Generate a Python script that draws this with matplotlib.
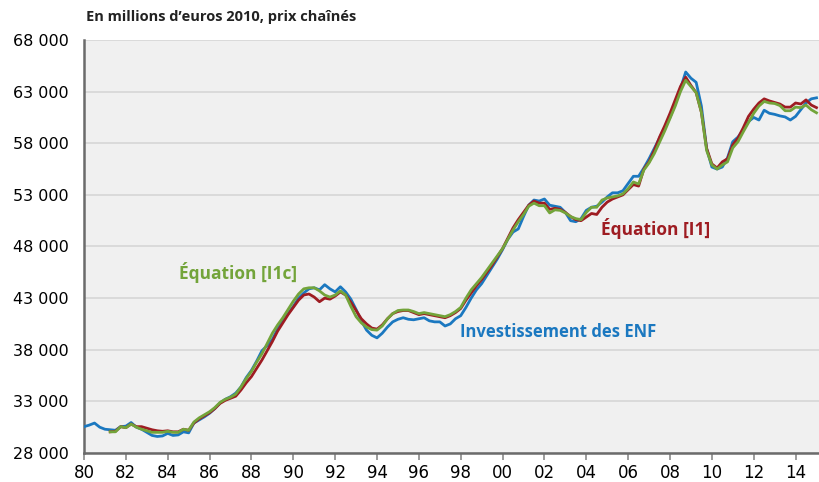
import numpy as np
import matplotlib
matplotlib.use("Agg")
import matplotlib.pyplot as plt
from matplotlib.ticker import FuncFormatter

# --------------------------------------------------
# DONNÉES (trimestrielles)
# --------------------------------------------------
# Investissement des ENF : 1980T1 -> 2015T1
start_enf = 1980.0
invest_enf = [
    30550, 30700, 30900, 30500,   # 1980
    30300, 30250, 30200, 30550,   # 1981
    30600, 30950, 30500, 30300,   # 1982
    30000, 29700, 29600, 29650,   # 1983
    29900, 29700, 29750, 30050,   # 1984
    29950, 30900, 31200, 31500,   # 1985
    31850, 32300, 32850, 33200,   # 1986
    33450, 33800, 34400, 35300,   # 1987
    36000, 36900, 37900, 38400,   # 1988
    39000, 40000, 40800, 41500,   # 1989
    42200, 43000, 43500, 43900,   # 1990
    44000, 43800, 44300, 43900,   # 1991
    43600, 44100, 43600, 42900,   # 1992
    41900, 40800, 39900, 39400,   # 1993
    39150, 39600, 40200, 40700,   # 1994
    40950, 41100, 40950, 40900,   # 1995
    41000, 41100, 40800, 40700,   # 1996
    40700, 40300, 40500, 41000,   # 1997
    41300, 42100, 43000, 43800,   # 1998
    44400, 45200, 46000, 46800,   # 1999
    47700, 48700, 49400, 49700,   # 2000
    50900, 52000, 52500, 52400,   # 2001
    52600, 52000, 51900, 51800,   # 2002
    51300, 50500, 50400, 50700,   # 2003
    51500, 51800, 51900, 52300,   # 2004
    52800, 53200, 53200, 53400,   # 2005
    54100, 54800, 54800, 55600,   # 2006
    56500, 57500, 58500, 59500,   # 2007
    60500, 61800, 63300, 64900,   # 2008
    64300, 63900, 61600, 57500,   # 2009
    55700, 55500, 55700, 56600,   # 2010
    58150, 58600, 59300, 60100,   # 2011
    60500, 60250, 61200, 60900,   # 2012
    60800, 60650, 60550, 60250,   # 2013
    60600, 61250, 61900, 62300,   # 2014
    62400,                        # 2015
]

# Équations : 1981T2 -> 2015T1
start_eq = 1981.25
equation_i1 = [
    30050, 30100, 30550,          # 1981
    30450, 30800, 30550, 30550,   # 1982
    30400, 30250, 30150, 30100,   # 1983
    30150, 30050, 30050, 30300,   # 1984
    30200, 30900, 31300, 31600,   # 1985
    31900, 32300, 32800, 33100,   # 1986
    33300, 33500, 34100, 34800,   # 1987
    35400, 36200, 37000, 37900,   # 1988
    38800, 39800, 40600, 41400,   # 1989
    42100, 42800, 43300, 43400,   # 1990
    43100, 42650, 43000, 42900,   # 1991
    43200, 43600, 43300, 42600,   # 1992
    41800, 41000, 40500, 40100,   # 1993
    40000, 40400, 41000, 41500,   # 1994
    41700, 41800, 41800, 41600,   # 1995
    41400, 41500, 41400, 41300,   # 1996
    41200, 41100, 41300, 41600,   # 1997
    42000, 42800, 43500, 44200,   # 1998
    44800, 45500, 46200, 47000,   # 1999
    47800, 48800, 49800, 50600,   # 2000
    51300, 52000, 52400, 52200,   # 2001
    52200, 51600, 51700, 51600,   # 2002
    51300, 50900, 50600, 50500,   # 2003
    50850, 51200, 51100, 51800,   # 2004
    52300, 52600, 52800, 53000,   # 2005
    53500, 54000, 53850, 55500,   # 2006
    56200, 57300, 58600, 59700,   # 2007
    60900, 62200, 63500, 64400,   # 2008
    63600, 62900, 61000, 57500,   # 2009
    56000, 55600, 56200, 56500,   # 2010
    57850, 58500, 59500, 60600,   # 2011
    61300, 61900, 62300, 62100,   # 2012
    61950, 61800, 61500, 61500,   # 2013
    61900, 61800, 62200, 61700,   # 2014
    61450,                        # 2015
]

equation_i1c = [
    30050, 30050, 30550,          # 1981
    30450, 30800, 30500, 30300,   # 1982
    30150, 30000, 30000, 30000,   # 1983
    30100, 30000, 30000, 30300,   # 1984
    30200, 31000, 31400, 31700,   # 1985
    32000, 32400, 32900, 33200,   # 1986
    33400, 33700, 34400, 35200,   # 1987
    35900, 36800, 37600, 38600,   # 1988
    39600, 40400, 41100, 41900,   # 1989
    42700, 43400, 43900, 44000,   # 1990
    44000, 43700, 43300, 43100,   # 1991
    43300, 43700, 43300, 42200,   # 1992
    41200, 40600, 40200, 39950,   # 1993
    39900, 40300, 41000, 41500,   # 1994
    41800, 41850, 41850, 41700,   # 1995
    41500, 41600, 41500, 41400,   # 1996
    41300, 41200, 41400, 41700,   # 1997
    42100, 43000, 43800, 44400,   # 1998
    45000, 45700, 46400, 47100,   # 1999
    47800, 48700, 49600, 50400,   # 2000
    51100, 51900, 52200, 51950,   # 2001
    51950, 51250, 51550, 51500,   # 2002
    51250, 50900, 50700, 50600,   # 2003
    51300, 51800, 51800, 52500,   # 2004
    52700, 52800, 52900, 53100,   # 2005
    53600, 54250, 54050, 55400,   # 2006
    56100, 57000, 58100, 59200,   # 2007
    60400, 61600, 63000, 64100,   # 2008
    63500, 62900, 61000, 57300,   # 2009
    55900, 55500, 55900, 56200,   # 2010
    57550, 58150, 59100, 60000,   # 2011
    60900, 61600, 62050, 61900,   # 2012
    61850, 61650, 61150, 61150,   # 2013
    61500, 61450, 61700, 61250,   # 2014
    60950,                        # 2015
]

years_ticks = list(range(1980, 2015, 2))
y_ticks = list(range(28000, 68001, 5000))

# --------------------------------------------------
# COULEURS / POLICES
# --------------------------------------------------
col_enf = "#1b78c0"
col_i1 = "#9e1c22"
col_i1c = "#73a43a"
narrow = ["Liberation Sans Narrow", "DejaVu Sans"]
bold_font = ["Open Sans", "DejaVu Sans"]

x_enf = start_enf + 0.25 * np.arange(len(invest_enf))
x_eq = start_eq + 0.25 * np.arange(len(equation_i1))

fig = plt.figure(figsize=(8.19, 4.82), dpi=100)
ax = fig.add_axes([0.1026, 0.0602, 0.8974, 0.8568])
ax.set_facecolor("#f0f0f0")

ax.plot(x_enf, invest_enf, color=col_enf, lw=2.0, zorder=3)
ax.plot(x_eq, equation_i1, color=col_i1, lw=2.0, zorder=4)
ax.plot(x_eq, equation_i1c, color=col_i1c, lw=2.0, zorder=5)

ax.set_xlim(1980, 2015.12)
ax.set_ylim(28000, 68000)
ax.set_yticks(y_ticks)
ax.yaxis.set_major_formatter(FuncFormatter(lambda v, p: f"{int(v):,}".replace(",", " ")))
ax.set_xticks(years_ticks)
ax.set_xticklabels([f"{y % 100:02d}" for y in years_ticks])
ax.grid(axis="y", color="#d6d6d6", lw=1.2)
ax.set_axisbelow(True)

for side in ["top", "right"]:
    ax.spines[side].set_visible(False)
for side in ["left", "bottom"]:
    ax.spines[side].set_color("#6b6b6b")
    ax.spines[side].set_linewidth(1.8)

ax.tick_params(axis="y", length=0, pad=11, labelsize=11.5)
ax.tick_params(axis="x", length=5, width=1.2, color="#8a8a8a", direction="out",
               pad=3, labelsize=12)
for lab in ax.get_xticklabels() + ax.get_yticklabels():
    lab.set_family(narrow)

# Étiquettes des séries
ax.text(1984.55, 45450, "Équation [I1c]", color=col_i1c, fontsize=12.5,
        fontweight="bold", family=bold_font, va="center")
ax.text(1997.95, 39700, "Investissement des ENF", color=col_enf, fontsize=12,
        fontweight="bold", family=bold_font, va="center")
ax.text(2004.7, 49700, "Équation [I1]", color=col_i1, fontsize=12.5,
        fontweight="bold", family=bold_font, va="center")

fig.text(0.105, 0.965, "En millions d\u2019euros 2010, prix chaînés", fontsize=10.5,
         fontweight="bold", family=bold_font, va="center", color="#222222")

fig.savefig("out.png", dpi=100)
